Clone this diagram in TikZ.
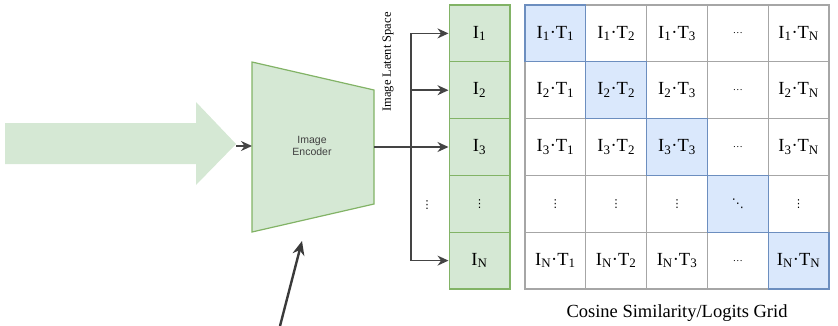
\documentclass[tikz,border=0pt]{standalone}
\usepackage{fontspec}
\setmainfont{Liberation Serif}
\newfontfamily\encfont{Liberation Sans}
\newfontfamily\symfont{DejaVu Sans}
\usepackage{tikz}
\usetikzlibrary{arrows.meta, positioning, calc}
\definecolor{boxgreen}{HTML}{D5E8D4}
\definecolor{linegreen}{HTML}{82B366}
\definecolor{boxblue}{HTML}{DAE8FC}
\definecolor{lineblue}{HTML}{6C8EBF}
\definecolor{gridgray}{HTML}{A6A6A6}
\definecolor{arrowgray}{HTML}{444444}
\newcommand{\cossim}[2]{I\textsubscript{#1}·T\textsubscript{#2}}
\newcommand{\vdotsym}{{\symfont\fontsize{11}{13}\selectfont ⋮}}

\begin{document}
\begin{tikzpicture}[x=1pt, y=-1pt,
  every node/.style={font=\fontsize{18.5}{22}\selectfont},
  cell/.style={rectangle, draw=gridgray, line width=1.2pt, minimum width=60.8pt, minimum height=56.8pt, inner sep=0pt},
  diag/.style={cell, draw=lineblue, fill=boxblue},
  latent/.style={cell, draw=linegreen, fill=boxgreen},
  link/.style={-{Stealth[length=11pt, width=10pt]}, draw=arrowgray, line width=1.6pt},
]
  \useasboundingbox (0,0) rectangle (838,325);

  % input arrow and encoder
  \fill[boxgreen] (5,123) -- (196,123) -- (196,102) -- (236,144) -- (196,185) -- (196,164) -- (5,164) -- cycle;
  \coordinate (bigtip) at (236,146);
  \coordinate (encin) at (252,146);
  \coordinate (encout) at (374,147);
  \coordinate (split) at (411,147);
  \draw[linegreen, fill=boxgreen, line width=1.2pt] (252,62) -- (374,90) -- (374,204) -- (252,232) -- cycle;
  \node[font=\encfont\fontsize{10.5}{12.5}\selectfont, text=black!75, align=center] (enc) at (312,146) {Image\\Encoder};
  \draw[link] (bigtip) -- (encin);

  % latent space
  \node[latent] (lat1) at (479.5,33.4) {I\textsubscript{1}};
  \node[latent] (lat2) at (479.5,90.2) {I\textsubscript{2}};
  \node[latent] (lat3) at (479.5,147) {I\textsubscript{3}};
  \node[latent] (latd) at (479.5,203.8) {\vdotsym};
  \node[latent] (latN) at (479.5,260.6) {I\textsubscript{N}};
  \node[rotate=90, font=\fontsize{12.5}{14}\selectfont] (latlabel) at (388,62) {Image Latent Space};
  \node (ldots) at (427,205) {\vdotsym};

  \draw[arrowgray, line width=1.6pt] (encout) -- (split);
  \draw[arrowgray, line width=1.6pt] (split |- lat1) -- (split |- latN);
  \draw[link] (split |- lat1) -- (lat1.west);
  \draw[link] (split |- lat2) -- (lat2.west);
  \draw[link] (split |- lat3) -- (lat3.west);
  \draw[link] (split |- latN) -- (latN.west);

  % similarity grid
  \node[cell] (c12) at (616.2,33.4) {\cossim{1}{2}};
  \node[cell] (c13) at (677,33.4) {\cossim{1}{3}};
  \node[cell] (c14) at (737.8,33.4) {\fontsize{10}{12}\selectfont …};
  \node[cell] (c15) at (798.6,33.4) {\cossim{1}{N}};
  \node[cell] (c21) at (555.4,90.2) {\cossim{2}{1}};
  \node[cell] (c23) at (677,90.2) {\cossim{2}{3}};
  \node[cell] (c24) at (737.8,90.2) {\fontsize{10}{12}\selectfont …};
  \node[cell] (c25) at (798.6,90.2) {\cossim{2}{N}};
  \node[cell] (c31) at (555.4,147) {\cossim{3}{1}};
  \node[cell] (c32) at (616.2,147) {\cossim{3}{2}};
  \node[cell] (c34) at (737.8,147) {\fontsize{10}{12}\selectfont …};
  \node[cell] (c35) at (798.6,147) {\cossim{3}{N}};
  \node[cell] (c41) at (555.4,203.8) {\vdotsym};
  \node[cell] (c42) at (616.2,203.8) {\vdotsym};
  \node[cell] (c43) at (677,203.8) {\vdotsym};
  \node[cell] (c45) at (798.6,203.8) {\vdotsym};
  \node[cell] (c51) at (555.4,260.6) {\cossim{N}{1}};
  \node[cell] (c52) at (616.2,260.6) {\cossim{N}{2}};
  \node[cell] (c53) at (677,260.6) {\cossim{N}{3}};
  \node[cell] (c54) at (737.8,260.6) {\fontsize{10}{12}\selectfont …};
  \node[diag] (c11) at (555.4,33.4) {\cossim{1}{1}};
  \node[diag] (c22) at (616.2,90.2) {\cossim{2}{2}};
  \node[diag] (c33) at (677,147) {\cossim{3}{3}};
  \node[diag] (c44) at (737.8,203.8) {\symfont\fontsize{12}{14}\selectfont ⋱};
  \node[diag] (c55) at (798.6,260.6) {\cossim{N}{N}};
  \node (caption) at (677,313) {Cosine Similarity/Logits Grid};

  % text input arrow
  \coordinate (src) at (280,326);
  \coordinate (target) at (302,241);
  \draw[-{Stealth[length=14pt, width=12pt]}, arrowgray!85!black, line width=2.4pt] (src) -- (target);
\end{tikzpicture}
\end{document}
